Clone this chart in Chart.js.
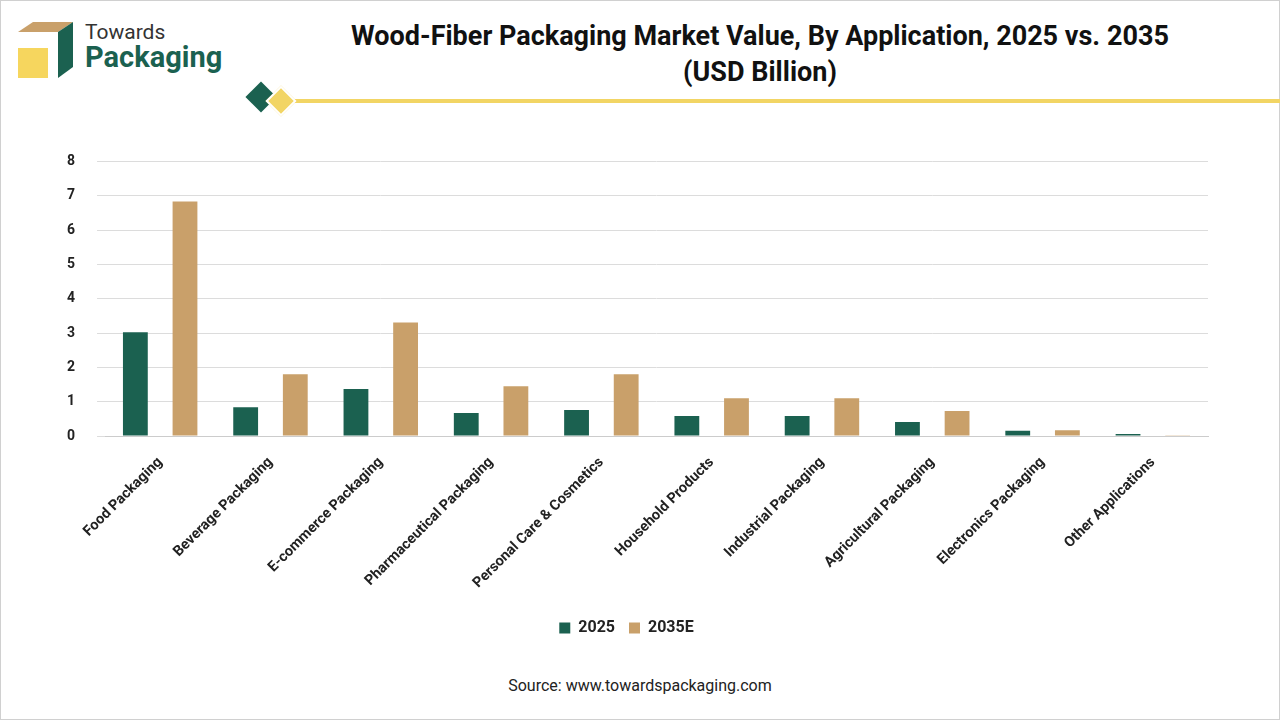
<!DOCTYPE html>
<html>
<head>
<meta charset="utf-8">
<script src="https://cdn.jsdelivr.net/npm/chart.js@4/dist/chart.umd.min.js"></script>
<style>
  body { margin: 0; width: 1280px; height: 720px; background: #fff; font-family: Roboto, "Open Sans", sans-serif; overflow: hidden; }
  #frame { position: absolute; left: 0; top: 0; width: 1278px; height: 718px; border: 1px solid #d0d0d0; }
  #title { position: absolute; left: 240px; width: 1040px; top: 18px; text-align: center; font-weight: bold; font-size: 27px; line-height: 36px; color: #111; }
  #rule { position: absolute; left: 290px; top: 99px; width: 990px; height: 4px; background: #f2d564; }
  #diamond1 { position: absolute; left: 250px; top: 86px; width: 22px; height: 22px; background: #1b6150; transform: rotate(45deg); }
  #diamond2 { position: absolute; left: 270px; top: 90px; width: 18px; height: 18px; background: #f2d564; transform: rotate(45deg); border: 2px solid #fff; }
  #logo { position: absolute; left: 18px; top: 22px; }
  #logoTxt1 { position: absolute; left: 85px; top: 20px; font-size: 21px; color: #333; }
  #logoTxt2 { position: absolute; left: 85px; top: 40px; font-size: 29px; font-weight: bold; color: #1b6150; }
  #chartBox { position: absolute; left: 45px; top: 131px; width: 1185px; height: 515px; }
  #source { position: absolute; left: 0; width: 1280px; top: 676px; text-align: center; font-size: 16px; color: #222; }
</style>
</head>
<body>
<div id="frame"></div>
<svg id="logo" width="60" height="60">
  <polygon points="0,10 40,10 55,0 15,0" fill="#c9a06a"/>
  <polygon points="40,10 55,0 55,45 40,56" fill="#1b6150"/>
  <rect x="0" y="26" width="30" height="30" fill="#f6d65e"/>
</svg>
<div id="logoTxt1">Towards</div>
<div id="logoTxt2">Packaging</div>
<div id="title">Wood-Fiber Packaging Market Value, By Application, 2025 vs. 2035<br>(USD Billion)</div>
<div id="rule"></div>
<div id="diamond1"></div>
<div id="diamond2"></div>
<div id="chartBox"><canvas id="chart"></canvas></div>
<div id="source">Source: www.towardspackaging.com</div>
<script>
'use strict';

var categories = ['Food Packaging', 'Beverage Packaging', 'E-commerce Packaging', 'Pharmaceutical Packaging',
  'Personal Care & Cosmetics', 'Household Products', 'Industrial Packaging', 'Agricultural Packaging',
  'Electronics Packaging', 'Other Applications'];
var values2025 = [3.02, 0.84, 1.37, 0.67, 0.76, 0.58, 0.58, 0.41, 0.15, 0.06];
var values2035 = [6.83, 1.80, 3.31, 1.45, 1.80, 1.10, 1.10, 0.73, 0.17, 0.02];
var yTicks = [0, 1, 2, 3, 4, 5, 6, 7, 8];

var chartEl = document.getElementById('chart');
chartEl.width = 1185;
chartEl.height = 515;

new Chart(chartEl, {
  type: 'bar',
  data: {
    labels: categories,
    datasets: [
      { label: '2025', data: values2025, backgroundColor: '#1b6150', barPercentage: 0.5, categoryPercentage: 0.9 },
      { label: '2035E', data: values2035, backgroundColor: '#c9a06a', barPercentage: 0.5, categoryPercentage: 0.9 }
    ]
  },
  options: {
    responsive: false,
    animation: false,
    layout: { padding: { right: 22 } },
    plugins: {
      legend: {
        position: 'bottom',
        labels: { boxWidth: 11, boxHeight: 11, font: { size: 16, weight: 'bold', family: 'Roboto' }, color: '#222', padding: 14 }
      },
      tooltip: { enabled: false }
    },
    scales: {
      x: {
        grid: { display: false },
        border: { color: '#ccc' },
        ticks: { maxRotation: 45, minRotation: 45, font: { size: 14.5, weight: 'bold', family: 'Roboto' }, color: '#222', padding: 10 },
        afterFit: function (axis) { axis.height = 170; }
      },
      y: {
        min: 0, max: 8,
        afterBuildTicks: function (axis) { axis.ticks = yTicks.map(function (v) { return { value: v }; }); },
        grid: { color: '#dcdcdc' },
        border: { display: false },
        ticks: { font: { size: 14, weight: 'bold', family: 'Roboto' }, color: '#222', padding: 22 }
      }
    }
  }
});
</script>
</body>
</html>
